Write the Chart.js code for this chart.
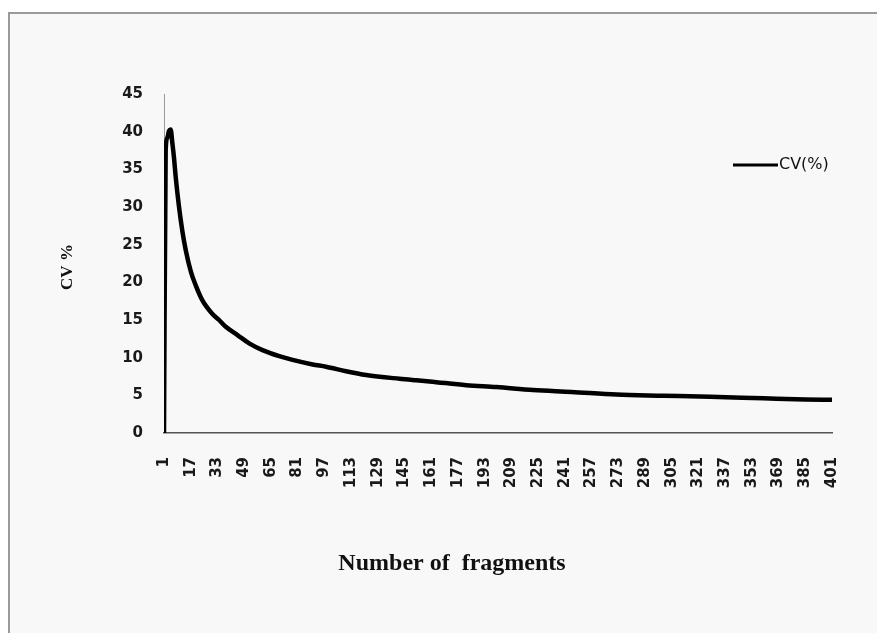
<!DOCTYPE html>
<html>
<head>
<meta charset="utf-8">
<script src="https://cdn.jsdelivr.net/npm/chart.js@4.4.1/dist/chart.umd.min.js"></script>
<style>
  html, body { margin: 0; padding: 0; background: #ffffff; }
  #frame {
    position: absolute; left: 8px; top: 12px; width: 869px; height: 621px;
    background: #f8f8f8; border-top: 2px solid #9a9a9a; border-left: 2px solid #9a9a9a;
    box-sizing: border-box;
  }
  #wrap { position: absolute; left: 0; top: 0; width: 877px; height: 633px; }
</style>
</head>
<body>
<div id="frame"></div>
<div id="wrap"><canvas id="cvChart" width="877" height="633"></canvas></div>
<script>
// Data
const fragments = [1, 2, 3, 4, 5, 6, 7, 8, 10, 12, 14, 17, 20, 24, 30, 34, 38, 45, 52, 60, 70, 78,
  90, 98, 110, 122, 142, 152, 160, 182, 200, 222, 245, 272, 300, 328, 360, 385, 401];
const cvValues = [0, 37.5, 39.2, 40.1, 40.3, 38.5, 36.5, 34, 30, 26.8, 24.3, 21.5, 19.6, 17.6, 15.8, 15.0, 14.1, 13.0, 11.9, 11.0, 10.2, 9.7,
  9.1, 8.8, 8.2, 7.7, 7.2, 7.0, 6.85, 6.35, 6.1, 5.7, 5.45, 5.1, 4.95, 4.8, 4.6, 4.45, 4.4];
const xTickLabels = [1, 17, 33, 49, 65, 81, 97, 113, 129, 145, 161, 177, 193, 209, 225, 241, 257, 273,
  289, 305, 321, 337, 353, 369, 385, 401];
const yTickLabels = [0, 5, 10, 15, 20, 25, 30, 35, 40, 45];

const tickFont = { family: "DejaVu Sans", size: 15, weight: "bold" };

// Titles and legend drawn at their places in the picture
const extras = {
  id: "extras",
  afterDraw(chart) {
    const ctx = chart.ctx;
    ctx.save();
    ctx.fillStyle = "#111111";
    ctx.font = 'bold 24px "Liberation Serif"';
    ctx.textAlign = "center";
    ctx.textBaseline = "middle";
    ctx.fillText("Number of  fragments", 452, 564);

    ctx.translate(68, 267);
    ctx.rotate(-Math.PI / 2);
    ctx.font = 'bold 17px "Liberation Serif"';
    ctx.fillText("CV %", 0, 0);
    ctx.restore();

    // legend
    const ds = chart.data.datasets[0];
    ctx.save();
    ctx.strokeStyle = ds.borderColor;
    ctx.lineWidth = 3;
    ctx.beginPath();
    ctx.moveTo(733, 165);
    ctx.lineTo(778, 165);
    ctx.stroke();
    ctx.fillStyle = "#111111";
    ctx.font = '16px "DejaVu Sans"';
    ctx.textAlign = "left";
    ctx.textBaseline = "middle";
    ctx.fillText(ds.label, 779, 165);
    ctx.restore();
  }
};

const ctx = document.getElementById("cvChart").getContext("2d");
new Chart(ctx, {
  type: "line",
  data: {
    datasets: [
      {
        label: "CV(%)",
        data: fragments.map((f, i) => ({ x: f, y: cvValues[i] })),
        borderColor: "#000000",
        borderWidth: 4.5,
        pointRadius: 0,
        cubicInterpolationMode: "monotone",
        fill: false,
      },
    ],
  },
  options: {
    responsive: false,
    animation: false,
    layout: { padding: { top: 94, right: 45, left: 0, bottom: 0 } },
    plugins: {
      legend: { display: false },
      tooltip: { enabled: false },
    },
    scales: {
      x: {
        type: "linear",
        min: 1,
        max: 401,
        grid: { display: false, drawTicks: false },
        border: { color: "#555555", width: 1.5 },
        afterBuildTicks: (scale) => {
          scale.ticks = xTickLabels.map((v) => ({ value: v }));
        },
        afterFit: (scale) => { scale.height = 200; },
        ticks: {
          autoSkip: false,
          minRotation: 90,
          maxRotation: 90,
          padding: 24,
          color: "#1a1a1a",
          font: tickFont,
        },
      },
      y: {
        min: 0,
        max: 45,
        grid: { display: false, drawTicks: false },
        border: { color: "#9a9a9a", width: 1 },
        afterBuildTicks: (scale) => {
          scale.ticks = yTickLabels.map((v) => ({ value: v }));
        },
        afterFit: (scale) => { scale.width = 164; },
        ticks: {
          padding: 21,
          color: "#1a1a1a",
          font: tickFont,
        },
      },
    },
  },
  plugins: [extras],
});
</script>
</body>
</html>
